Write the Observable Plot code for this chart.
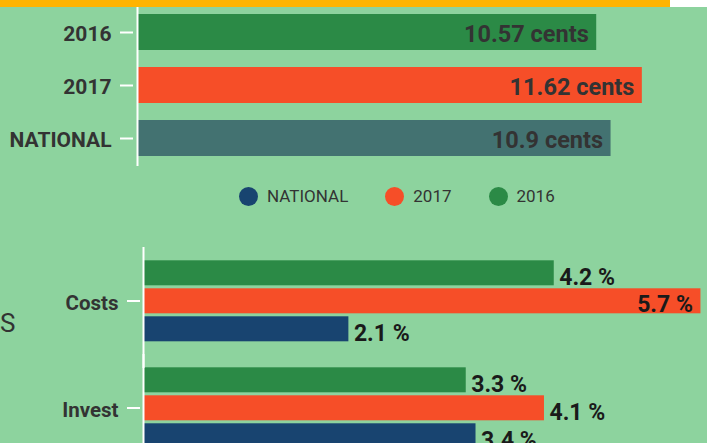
<!DOCTYPE html>
<html>
<head>
<meta charset="utf-8">
<script src="https://cdn.jsdelivr.net/npm/d3@7"></script>
<script src="https://cdn.jsdelivr.net/npm/@observablehq/plot@0.6"></script>
<style>
  html, body { margin: 0; padding: 0; }
  body { width: 707px; height: 443px; overflow: hidden; background: #8dd39e; position: relative; font-family: Roboto, sans-serif; }
  #band { position: absolute; left: 0; top: 0; width: 707px; height: 7px; background: #ffffff; }
  #band div { width: 670px; height: 7px; background: #ffb400; }
  #top { position: absolute; left: 0; top: 0; }
  #bottom { position: absolute; left: 0; top: 240px; }
  #legend { position: absolute; left: 239px; top: 186px; display: flex; gap: 37px; font-size: 17px; color: #333; line-height: 20px; }
  .item { display: flex; align-items: center; }
  .dot { width: 19px; height: 19px; border-radius: 50%; margin-right: 9px; }
  #cut { position: absolute; left: 0px; top: 309px; font-size: 26px; line-height: 28px; color: #333; }
</style>
</head>
<body>
<div id="top"></div>
<div id="bottom"></div>
<div id="legend"></div>
<div id="cut">S</div>
<div id="band"><div></div></div>
<script>
// ---- data ----
const rateCategories = ["2016", "2017", "NATIONAL"];
const rateValues = [10.57, 11.62, 10.9];
const rateUnit = "cents";
const rateColors = ["#2b8a46", "#f64e28", "#437271"];

const legendKeys = ["NATIONAL", "2017", "2016"];
const legendColors = ["#184470", "#f64e28", "#2b8a46"];

const groupNames = ["Costs", "Invest"];
const seriesNames = ["2016", "2017", "NATIONAL"];
const costsValues = [4.2, 5.7, 2.1];
const investValues = [3.3, 4.1, 3.4];
const seriesColors = ["#2b8a46", "#f64e28", "#184470"];

// ---- tables ----
const rateData = rateCategories.map((c, i) => ({cat: c, value: rateValues[i], label: `${rateValues[i]} ${rateUnit}`}));
const shareData = [];
groupNames.forEach((g, gi) => {
  const vals = gi === 0 ? costsValues : investValues;
  seriesNames.forEach((s, si) => shareData.push({group: g, series: s, value: vals[si]}));
});
const fmt = v => `${v} %`;

const svgStyle = {background: "transparent", fontFamily: "Roboto, sans-serif", overflow: "visible"};

// ---- top chart ----
const topPlot = Plot.plot({
  width: 707, height: 170,
  marginLeft: 137, marginRight: 0, marginTop: 7, marginBottom: 4,
  style: svgStyle,
  x: {domain: [0, 13.12], axis: null},
  y: {domain: rateCategories, paddingInner: 0.312, paddingOuter: 0.134, align: 0.4},
  color: {domain: rateCategories, range: rateColors},
  marks: [
    Plot.barX(rateData, {x: "value", y: "cat", fill: "cat"}),
    Plot.text(rateData, {x: "value", y: "cat", text: "label", textAnchor: "end", dx: -8, dy: 1.8, fill: "#333", fontSize: 23.5, fontWeight: "bold"}),
    Plot.ruleX([0], {stroke: "white", strokeWidth: 2}),
    Plot.axisY({tickSize: 13, dx: -4, stroke: "white", strokeWidth: 2, fill: "none", label: null}),
    Plot.axisY({tickSize: 0, tickPadding: 26, dy: 1.5, fill: "#333", fontSize: 21, fontWeight: "bold", label: null})
  ]
});
document.getElementById("top").appendChild(topPlot);

// ---- legend ----
const legend = d3.select("#legend");
legendKeys.forEach((k, i) => {
  const item = legend.append("div").attr("class", "item");
  item.append("span").attr("class", "dot").style("background", legendColors[i]);
  item.append("span").text(k);
});

// ---- bottom chart ----
const bottomPlot = Plot.plot({
  width: 707, height: 230,
  marginLeft: 143, marginRight: 0, marginTop: 6.7, marginBottom: 9.7,
  style: svgStyle,
  x: {domain: [0, 5.767], axis: null},
  y: {domain: seriesNames, paddingInner: 0.1, paddingOuter: 0, axis: null},
  fy: {domain: groupNames, paddingInner: 0.227, paddingOuter: 0.108},
  color: {domain: seriesNames, range: seriesColors},
  marks: [
    Plot.barX(shareData, {x: "value", y: "series", fy: "group", fill: "series"}),
    Plot.text(shareData.filter(d => d.value < 5.5), {x: "value", y: "series", fy: "group", text: d => fmt(d.value), textAnchor: "start", dx: 5, dy: 4.6, fill: "#1a1a1a", fontSize: 23, fontWeight: "bold"}),
    Plot.text(shareData.filter(d => d.value >= 5.5), {x: "value", y: "series", fy: "group", text: d => fmt(d.value), textAnchor: "end", dx: -8, dy: 3.8, fill: "#1a1a1a", fontSize: 23, fontWeight: "bold"}),
    Plot.ruleX([0], {stroke: "white", strokeWidth: 2, insetTop: -12, insetBottom: -26}),
    Plot.axisFy({anchor: "left", tickSize: 13, dx: -3, stroke: "white", strokeWidth: 2, fill: "none", label: null}),
    Plot.axisFy({anchor: "left", tickSize: 0, tickPadding: 25, dy: 2, fill: "#333", fontSize: 20.5, fontWeight: "bold", label: null})
  ]
});
document.getElementById("bottom").appendChild(bottomPlot);
</script>
</body>
</html>
